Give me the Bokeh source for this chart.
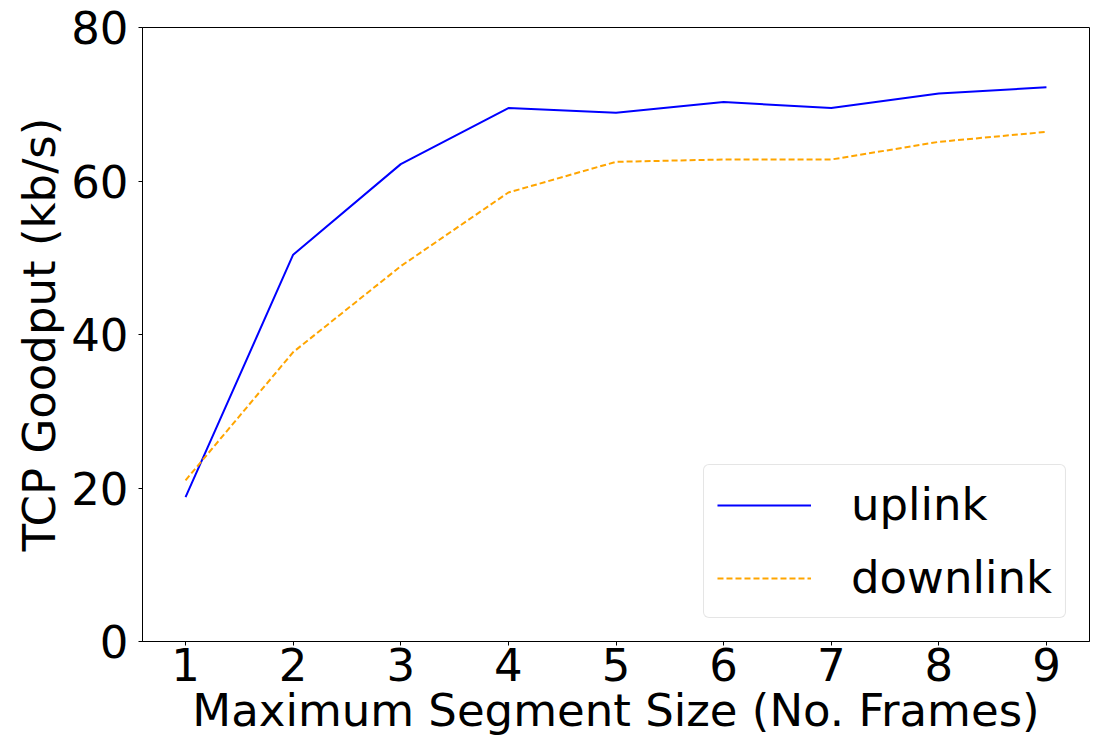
from bokeh.plotting import figure
from bokeh.models import Range1d, FixedTicker, Legend, LegendItem
from bokeh.embed import file_html
from bokeh.resources import INLINE

segment_sizes = [1, 2, 3, 4, 5, 6, 7, 8, 9]
uplink = [18.8, 50.4, 62.2, 69.5, 68.9, 70.3, 69.5, 71.4, 72.2]
downlink = [21.0, 37.7, 48.9, 58.5, 62.5, 62.8, 62.8, 65.1, 66.4]
y_ticks = [0, 20, 40, 60, 80]

FONT = "DejaVu Sans"
FS = "45px"

p = figure(width=1097, height=743, output_backend="svg", toolbar_location=None,
           x_range=Range1d(0.6, 9.4), y_range=Range1d(0, 80),
           min_border_left=142, min_border_right=8, min_border_top=27, min_border_bottom=102)

p.xgrid.visible = False
p.ygrid.visible = False
p.outline_line_color = "black"
p.outline_line_width = 1
p.background_fill_color = "white"
p.border_fill_color = "white"

r1 = p.line(segment_sizes, uplink, line_color="#0000ff", line_width=2)
r2 = p.line(segment_sizes, downlink, line_color="#ffa500", line_width=2, line_dash="6 3")

for ax in (p.xaxis[0], p.yaxis[0]):
    ax.major_label_text_font = FONT
    ax.major_label_text_font_size = FS
    ax.major_label_text_color = "black"
    ax.axis_label_text_font = FONT
    ax.axis_label_text_font_size = FS
    ax.axis_label_text_font_style = "normal"
    ax.axis_label_text_color = "black"
    ax.axis_line_color = "black"
    ax.major_tick_line_color = "black"
    ax.major_tick_out = 4
    ax.major_tick_in = 0
    ax.minor_tick_line_color = None

p.xaxis[0].ticker = FixedTicker(ticks=segment_sizes)
p.yaxis[0].ticker = FixedTicker(ticks=y_ticks)
p.xaxis[0].axis_label = "Maximum Segment Size (No. Frames)"
p.yaxis[0].axis_label = "TCP Goodput (kb/s)"
p.xaxis[0].major_label_standoff = 2
p.xaxis[0].axis_label_standoff = 0
p.yaxis[0].major_label_standoff = 10
p.yaxis[0].axis_label_standoff = 2

legend = Legend(items=[LegendItem(label="uplink", renderers=[r1]),
                       LegendItem(label="downlink", renderers=[r2])],
                location="bottom_right")
legend.label_text_font = FONT
legend.label_text_font_size = FS
legend.label_text_color = "black"
legend.glyph_width = 94
legend.glyph_height = 42
legend.label_height = 42
legend.label_standoff = 40
legend.spacing = 20
legend.padding = 13
legend.margin = 23
legend.border_line_color = "#cccccc"
legend.border_line_width = 1
legend.border_radius = 6
legend.background_fill_color = "white"
legend.background_fill_alpha = 0.8
p.add_layout(legend)

open("out.html", "w").write(file_html(p, INLINE))
